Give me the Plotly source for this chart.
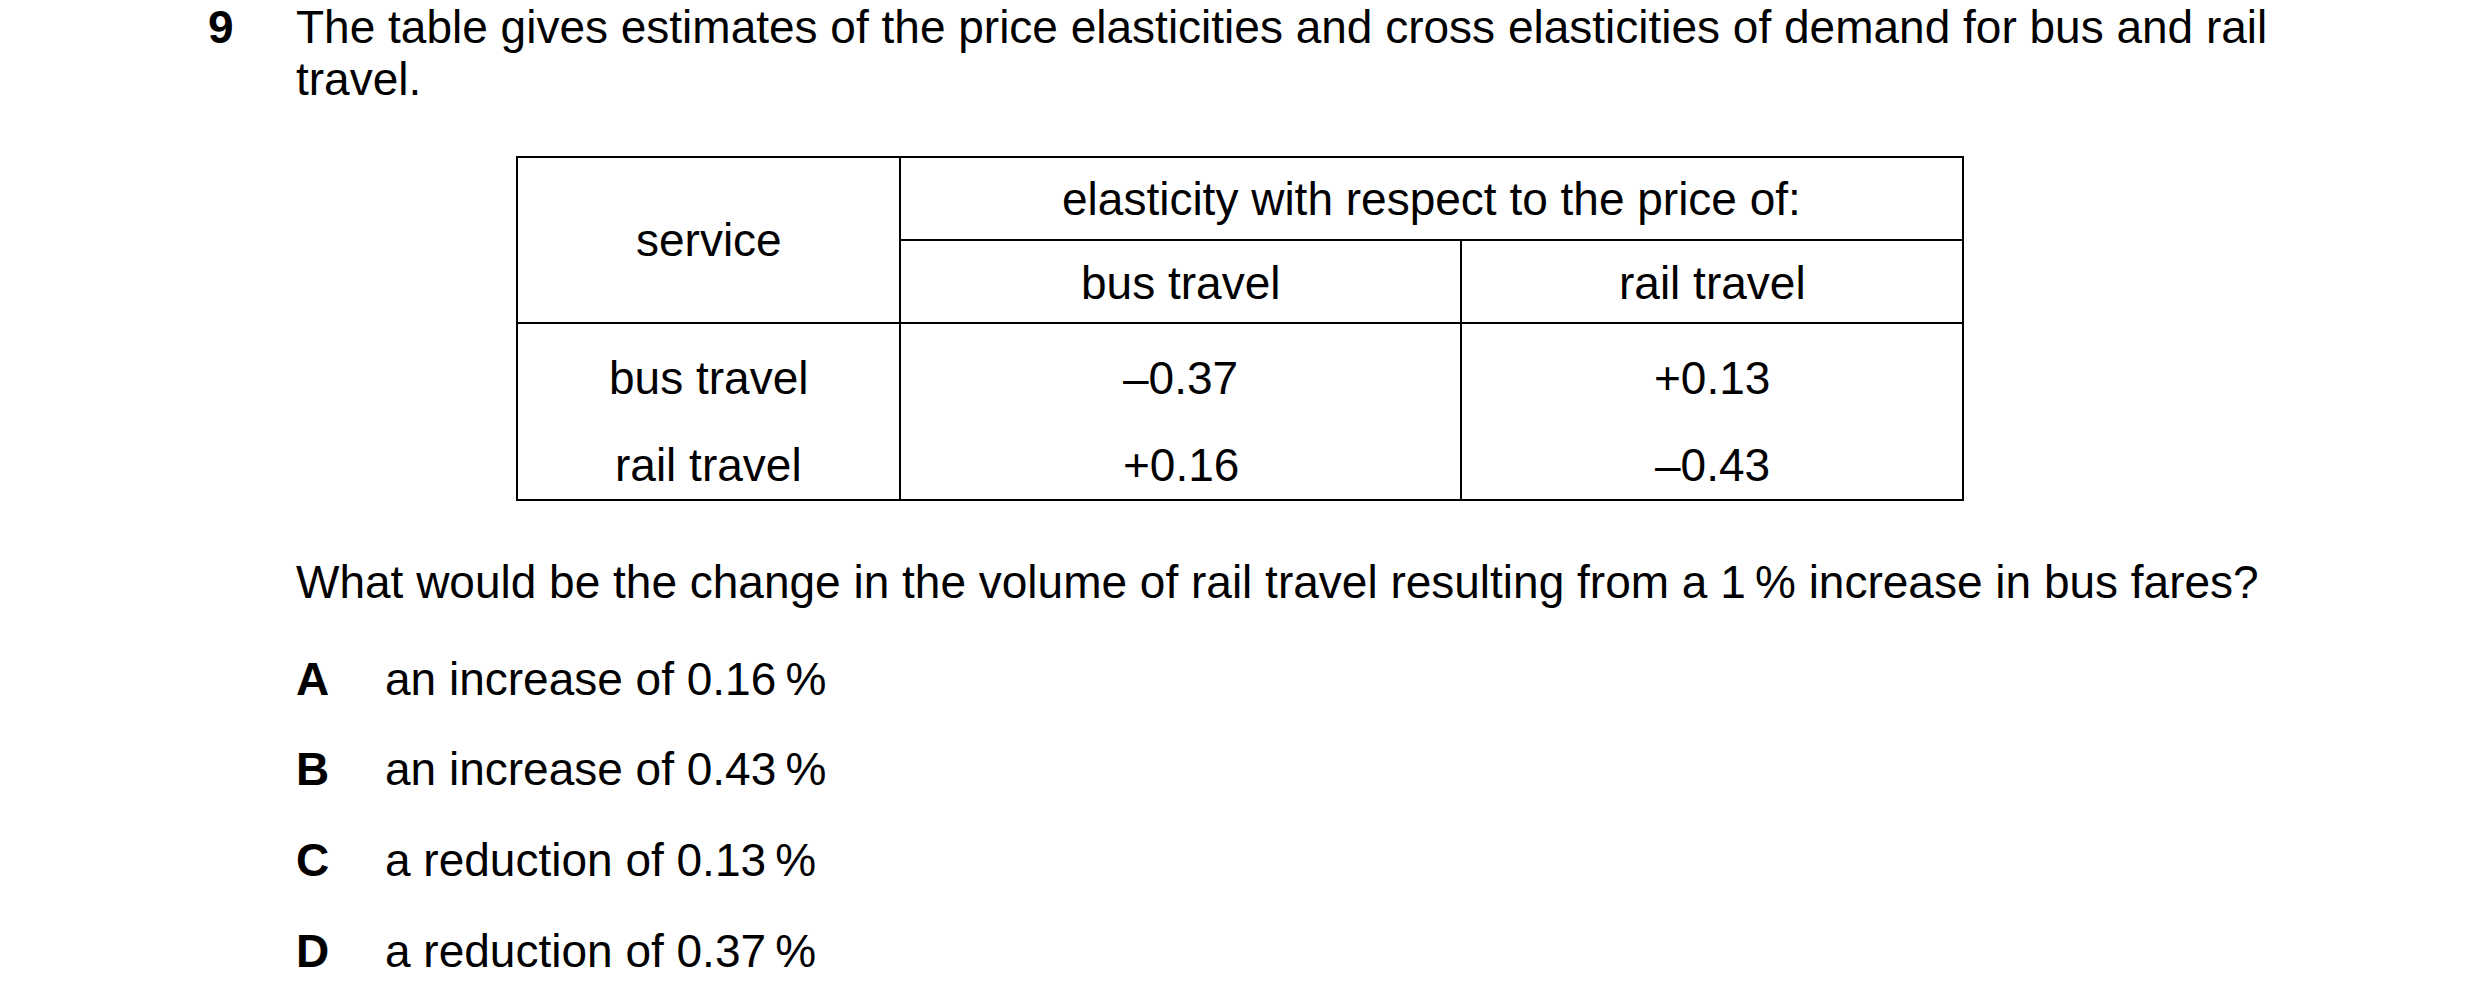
import plotly.graph_objects as go

question_no = "9"
intro = ["The table gives estimates of the price elasticities and cross elasticities of demand for bus and rail",
         "travel."]
header_top = "elasticity with respect to the price of:"
row_header = "service"
col_labels = ["bus travel", "rail travel"]
row_labels = ["bus travel", "rail travel"]
values = [["\u20130.37", "+0.13"],
          ["+0.16", "\u20130.43"]]
prompt = "What would be the change in the volume of rail travel resulting from a 1\u2009% increase in bus fares?"
letters = ["A", "B", "C", "D"]
options = ["an increase of 0.16\u2009%", "an increase of 0.43\u2009%",
           "a reduction of 0.13\u2009%", "a reduction of 0.37\u2009%"]

W, H = 2480, 1006
FONT = "Liberation Sans, Arial, sans-serif"
FS = 46
DX, DY = -8, -8  # page body margin

fig = go.Figure()

def txt(x, y, s, anchor="left", bold=False):
    fig.add_annotation(x=x + DX, y=y + DY, text=f"<b>{s}</b>" if bold else s, showarrow=False,
                       xanchor=anchor, yanchor="middle",
                       font=dict(family=FONT, size=FS, color="black"))

def line(x0, y0, x1, y1):
    fig.add_shape(type="line", x0=x0 + DX, y0=y0 + DY, x1=x1 + DX, y1=y1 + DY,
                  line=dict(color="black", width=2))

txt(206, 27, question_no, bold=True)
for i, s in enumerate(intro):
    txt(294, 27 + i * 52, s)

# table frame
L, R, T, B = 517, 1963, 157, 500
c1, c2 = 900, 1461
hmid, hbot = 240, 323
fig.add_shape(type="rect", x0=L + DX, y0=T + DY, x1=R + DX, y1=B + DY,
              line=dict(color="black", width=2))
line(c1, T, c1, B)
line(c2, hmid, c2, B)
line(c1, hmid, R, hmid)
line(L, hbot, R, hbot)

txt((L + c1) / 2, 240, row_header, "center")
txt((c1 + R) / 2, 199, header_top, "center")
centers = [(c1 + c2) / 2, (c2 + R) / 2]
for j, c in enumerate(col_labels):
    txt(centers[j], 283, c, "center")
row_y = [378, 465]
for i, r in enumerate(row_labels):
    txt((L + c1) / 2, row_y[i], r, "center")
    for j in range(2):
        txt(centers[j], row_y[i], values[i][j], "center")

txt(294, 582, prompt)
opt_y = [679, 769, 860, 951]
for k in range(4):
    txt(294, opt_y[k], letters[k], bold=True)
    txt(383, opt_y[k], options[k])

fig.update_xaxes(range=[0, W], visible=False)
fig.update_yaxes(range=[H, 0], visible=False)
fig.update_layout(width=W, height=H, margin=dict(l=0, r=0, t=0, b=0),
                  plot_bgcolor="white", paper_bgcolor="white", showlegend=False)
fig.write_html("out.html")
